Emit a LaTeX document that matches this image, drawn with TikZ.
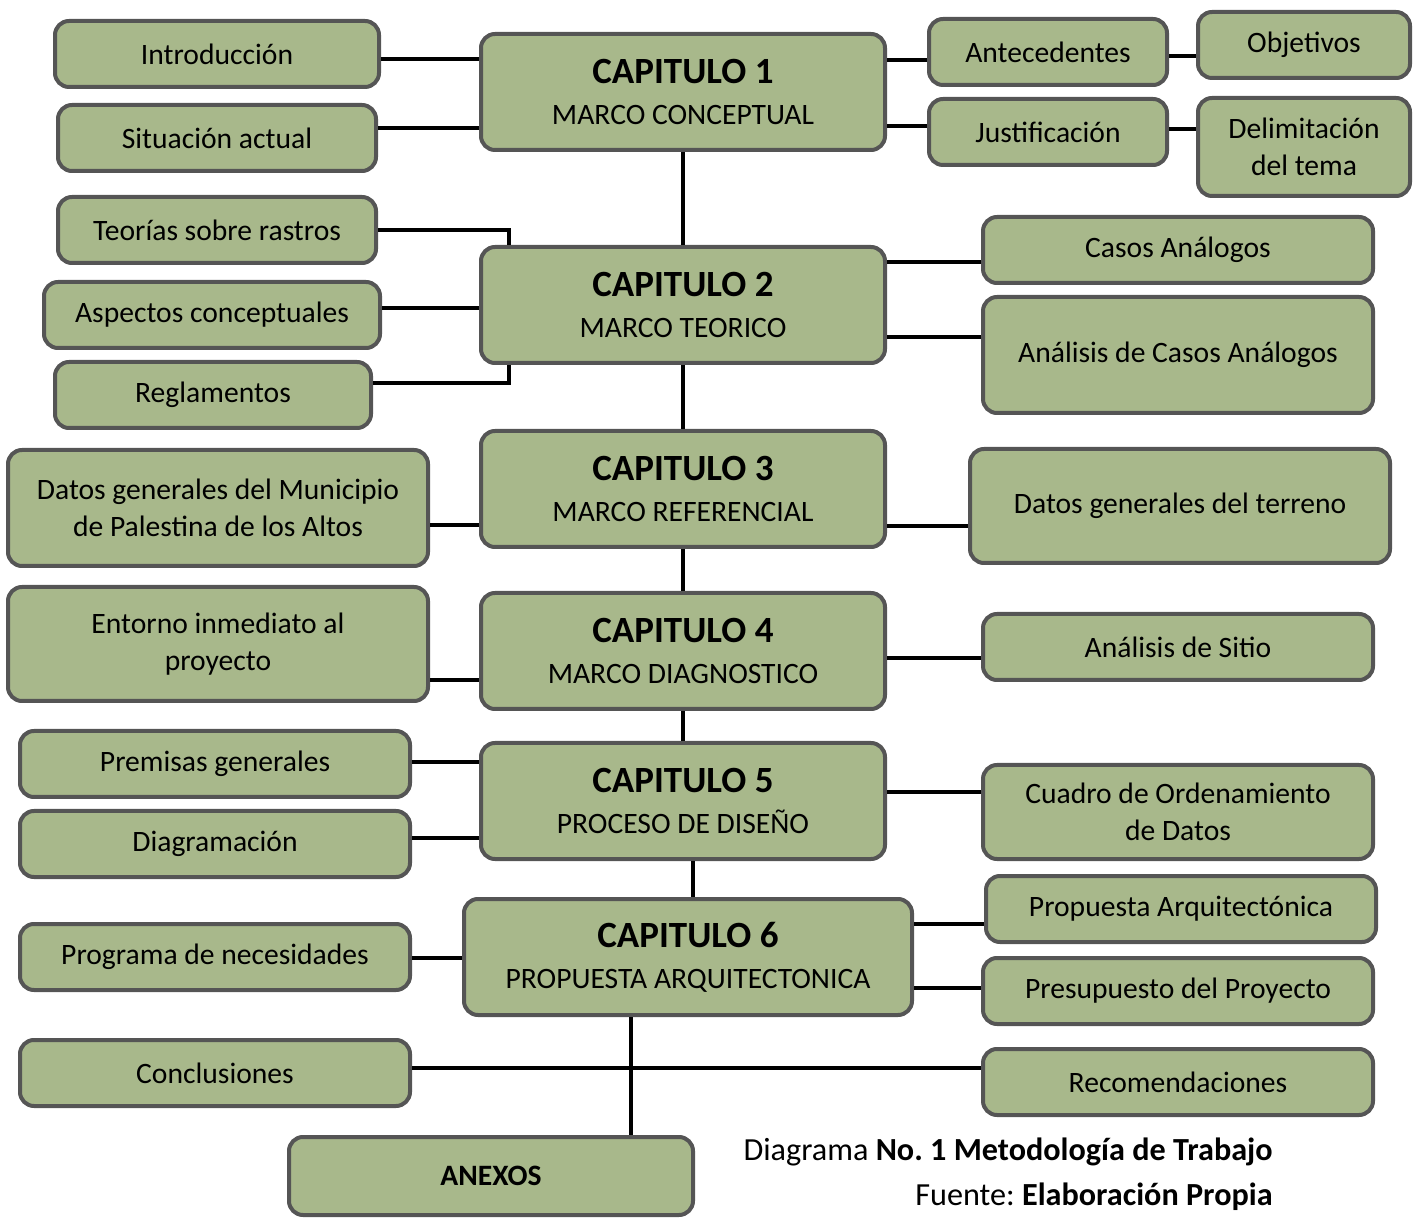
\documentclass[tikz,border=0pt]{standalone}
\usepackage{fontspec}
\setmainfont{Carlito}
\usepackage{xcolor}
\usetikzlibrary{positioning}
\frenchspacing

\definecolor{sage}{RGB}{168,184,139}
\definecolor{rim}{RGB}{85,85,85}

\newcommand{\chaptitle}[2]{{\fontsize{18.5}{20}\selectfont\bfseries #1}\\#2}

\begin{document}
\begin{tikzpicture}[
    x=0.5pt, y=-0.5pt,
    box/.style={rectangle, rounded corners=7pt, draw=rim, line width=2pt, fill=sage, inner sep=0pt, align=center,
        minimum width=195pt, minimum height=33pt, font=\fontsize{14.8}{18.5}\selectfont},
    chapter/.style={box, minimum width=202pt, minimum height=58pt, font=\fontsize{14.8}{20.5}\selectfont},
    link/.style={line width=2pt, black}
]
\useasboundingbox (0,0) rectangle (1419,1218);

% Chapters
\node[chapter] (cap1) at (683,92) {\chaptitle{CAPITULO 1}{MARCO CONCEPTUAL}};
\node[chapter] (cap2) at (683,305) {\chaptitle{CAPITULO 2}{MARCO TEORICO}};
\node[chapter] (cap3) at (683,489) {\chaptitle{CAPITULO 3}{MARCO REFERENCIAL}};
\node[chapter] (cap4) at (683,651) {\chaptitle{CAPITULO 4}{MARCO DIAGNOSTICO}};
\node[chapter] (cap5) at (683,801) {\chaptitle{CAPITULO 5}{PROCESO DE DISEÑO}};
\node[chapter, minimum width=224pt] (cap6) at (688,957) {\chaptitle{CAPITULO 6}{PROPUESTA ARQUITECTONICA}};

% Chapter 1
\node[box, minimum width=162pt] (intro) at (217,54) {Introducción};
\node[box, minimum width=159pt] (situacion) at (217,138) {Situación actual};
\node[box, minimum width=119pt] (antecedentes) at (1048,52) {Antecedentes};
\node[box, minimum width=106pt] (objetivos) at (1304,45) {Objetivos};
\node[box, minimum width=119pt] (justificacion) at (1048,132) {Justificación};
\node[box, minimum width=106pt, minimum height=49pt] (delimitacion) at (1304,147) {Delimitación\\del tema};

% Chapter 2
\node[box, minimum width=159pt] (teorias) at (217,230) {Teorías sobre rastros};
\node[box, minimum width=168pt] (aspectos) at (212,315) {Aspectos conceptuales};
\node[box, minimum width=158pt] (reglamentos) at (213,395) {Reglamentos};
\node[box] (casos) at (1178,250) {Casos Análogos};
\node[box, minimum height=58pt] (analisiscasos) at (1178,355) {Análisis de Casos Análogos};

% Chapter 3
\node[box, minimum width=210pt, minimum height=58pt] (municipio) at (218,508) {Datos generales del Municipio\\de Palestina de los Altos};
\node[box, minimum width=210pt, minimum height=57pt] (terreno) at (1180,506) {Datos generales del terreno};

% Chapter 4
\node[box, minimum width=210pt, minimum height=57pt] (entorno) at (218,644) {Entorno inmediato al\\proyecto};
\node[box] (sitio) at (1178,647) {Análisis de Sitio};

% Chapter 5
\node[box] (premisas) at (215,764) {Premisas generales};
\node[box] (diagramacion) at (215,844) {Diagramación};
\node[box, minimum height=47pt] (cuadro) at (1178,812) {Cuadro de Ordenamiento\\de Datos};

% Chapter 6
\node[box] (programa) at (215,957) {Programa de necesidades};
\node[box] (propuesta) at (1181,909) {Propuesta Arquitectónica};
\node[box] (presupuesto) at (1178,991) {Presupuesto del Proyecto};

% Closing
\node[box] (conclusiones) at (215,1073) {Conclusiones};
\node[box] (recomendaciones) at (1178,1082) {Recomendaciones};
\node[box, minimum width=202pt, minimum height=39pt, font=\fontsize{14.8}{18}\selectfont\bfseries] (anexos) at (491,1176) {ANEXOS};

% Caption
\node[anchor=east, inner sep=0pt, font=\fontsize{16.1}{18}\selectfont] (caption) at (1273,1152) {Diagrama \textbf{No. 1 Metodología de Trabajo}};
\node[anchor=east, inner sep=0pt, font=\fontsize{16.1}{18}\selectfont] (source) at (1273,1197) {Fuente: \textbf{Elaboración Propia}};

% Spine
\draw[link] (cap1) -- (cap2);
\draw[link] (cap2) -- (cap3);
\draw[link] (cap3) -- (cap4);
\draw[link] (cap4) -- (cap5);
\draw[link] ([xshift=2.5pt]cap5.south -| cap6.north) -- ([xshift=2.5pt]cap6.north);
\draw[link] ([xshift=-28.5pt]cap6.south) -- ([xshift=-28.5pt]cap6.south |- anexos.north);

% Branches
\draw[link] (intro.east |- 0,59) -- (cap1.west |- 0,59);
\draw[link] (situacion.east |- 0,128) -- (cap1.west |- 0,128);
\draw[link] (antecedentes.west |- 0,60) -- (cap1.east |- 0,60);
\draw[link] (justificacion.west |- 0,126) -- (cap1.east |- 0,126);
\draw[link] (antecedentes.east |- 0,56) -- (objetivos.west |- 0,56);
\draw[link] (justificacion.east |- 0,129) -- (delimitacion.west |- 0,129);
\draw[link] (teorias.east) -| ([xshift=15pt]cap2.north west);
\draw[link] (aspectos.east |- 0,308) -- (cap2.west |- 0,308);
\draw[link] (reglamentos.east |- 0,383) -| ([xshift=15pt]cap2.south west);
\draw[link] (casos.west |- 0,262) -- (cap2.east |- 0,262);
\draw[link] (analisiscasos.west |- 0,337) -- (cap2.east |- 0,337);
\draw[link] (municipio.east |- 0,525) -- (cap3.west |- 0,525);
\draw[link] (terreno.west |- 0,526) -- (cap3.east |- 0,526);
\draw[link] (entorno.east |- 0,680) -- (cap4.west |- 0,680);
\draw[link] (sitio.west |- 0,658) -- (cap4.east |- 0,658);
\draw[link] (premisas.east |- 0,762) -- (cap5.west |- 0,762);
\draw[link] (diagramacion.east |- 0,838) -- (cap5.west |- 0,838);
\draw[link] (cuadro.west |- 0,792) -- (cap5.east |- 0,792);
\draw[link] (propuesta.west |- 0,924) -- (cap6.east |- 0,924);
\draw[link] (presupuesto.west |- 0,988) -- (cap6.east |- 0,988);
\draw[link] (programa.east |- 0,958) -- (cap6.west |- 0,958);
\draw[link] (conclusiones.east |- 0,1068) -- (recomendaciones.west |- 0,1068);

\end{tikzpicture}
\end{document}
